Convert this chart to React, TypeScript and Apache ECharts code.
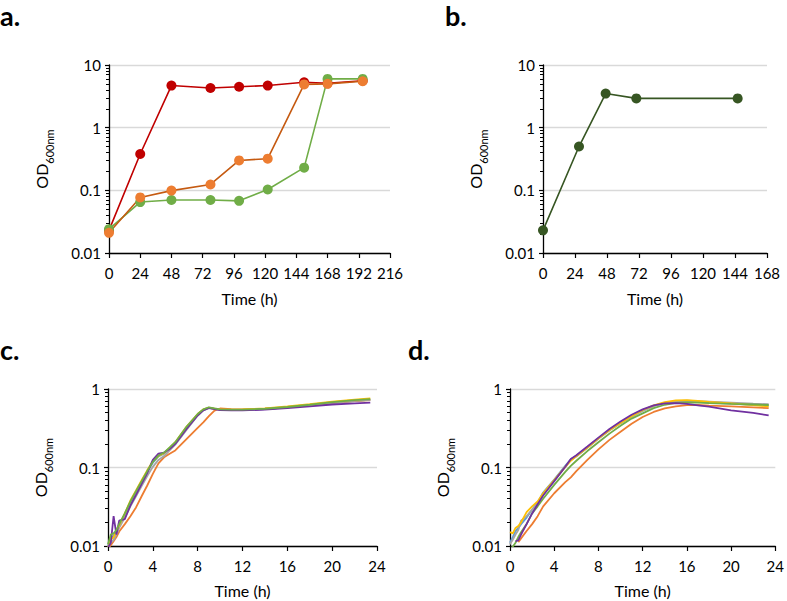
import React, { useEffect, useRef } from 'react';
import * as echarts from 'echarts';

const FONT = 'Lato, "Open Sans", "DejaVu Sans", sans-serif';

// ---------- Panel a ----------
const timeA = [0, 24, 48, 78, 100, 122, 150, 168, 195];
const redA = [0.023, 0.38, 4.7, 4.3, 4.5, 4.7, 5.3, 5.1, 5.6];
const greenA = [0.024, 0.065, 0.07, 0.07, 0.068, 0.103, 0.23, 6.0, 6.0];
const orangeA = [0.021, 0.077, 0.099, 0.124, 0.3, 0.32, 4.9, 5.0, 5.5];
const xTicksA = { max: 216, interval: 24 };

// ---------- Panel b ----------
const timeB = [0, 27, 47, 70, 146];
const odB = [0.023, 0.5, 3.5, 2.93, 2.93];
const xTicksB = { max: 168, interval: 24 };

// ---------- Panel c ----------
const timeC = [0, 0.25, 0.5, 0.75, 1, 1.5, 2, 2.5, 3, 3.5, 4, 4.5, 5, 5.5, 6, 7, 8, 8.5, 9, 9.5, 10, 11, 12, 14, 16, 18, 20, 22, 23.4];
const blueC = [0.01, 0.0125, 0.0135, 0.0155, 0.018, 0.025, 0.036, 0.049, 0.066, 0.088, 0.115, 0.138, 0.15, 0.175, 0.205, 0.32, 0.47, 0.54, 0.575, 0.56, 0.545, 0.54, 0.54, 0.555, 0.585, 0.62, 0.665, 0.7, 0.725];
const orangeC = [0.0095, 0.0102, 0.0115, 0.013, 0.0153, 0.019, 0.024, 0.031, 0.043, 0.059, 0.083, 0.113, 0.135, 0.15, 0.165, 0.23, 0.32, 0.375, 0.45, 0.53, 0.565, 0.555, 0.55, 0.56, 0.585, 0.62, 0.665, 0.7, 0.72];
const grayC = [0.0098, 0.011, 0.012, 0.014, 0.017, 0.023, 0.032, 0.043, 0.058, 0.078, 0.102, 0.125, 0.14, 0.165, 0.195, 0.3, 0.46, 0.535, 0.57, 0.56, 0.545, 0.54, 0.54, 0.555, 0.585, 0.62, 0.665, 0.705, 0.73];
const yellowC = [0.0095, 0.012, 0.013, 0.0155, 0.0185, 0.026, 0.038, 0.051, 0.069, 0.092, 0.12, 0.14, 0.152, 0.178, 0.21, 0.33, 0.48, 0.55, 0.58, 0.56, 0.55, 0.545, 0.55, 0.565, 0.6, 0.64, 0.69, 0.73, 0.76];
const purpleC = [0.0095, 0.011, 0.024, 0.014, 0.021, 0.022, 0.033, 0.045, 0.062, 0.085, 0.125, 0.15, 0.155, 0.172, 0.2, 0.31, 0.46, 0.535, 0.575, 0.555, 0.54, 0.535, 0.535, 0.545, 0.57, 0.6, 0.635, 0.655, 0.67];
const greenC = [0.0105, 0.014, 0.0145, 0.016, 0.019, 0.026, 0.037, 0.05, 0.067, 0.09, 0.118, 0.142, 0.155, 0.18, 0.21, 0.33, 0.48, 0.55, 0.585, 0.565, 0.55, 0.545, 0.545, 0.56, 0.59, 0.63, 0.68, 0.72, 0.745];

// ---------- Panel d ----------
const timeD = [0, 0.25, 0.5, 0.75, 1, 1.5, 2, 2.5, 3, 4, 5, 5.5, 6, 7, 8, 9, 10, 11, 12, 13, 14, 15, 16, 17, 18, 20, 22, 23.4];
const blueD = [0.011, 0.013, 0.0155, 0.017, 0.019, 0.023, 0.029, 0.036, 0.048, 0.07, 0.105, 0.127, 0.14, 0.18, 0.235, 0.3, 0.37, 0.45, 0.53, 0.61, 0.665, 0.69, 0.695, 0.685, 0.67, 0.65, 0.63, 0.615];
const orangeD = [null, null, null, 0.0112, 0.0125, 0.0155, 0.019, 0.024, 0.032, 0.047, 0.065, 0.075, 0.09, 0.125, 0.17, 0.225, 0.285, 0.36, 0.44, 0.51, 0.565, 0.6, 0.625, 0.625, 0.615, 0.6, 0.585, 0.57];
const grayD = [0.0105, 0.012, 0.014, 0.016, 0.021, 0.024, 0.029, 0.035, 0.046, 0.068, 0.102, 0.124, 0.138, 0.178, 0.232, 0.295, 0.365, 0.445, 0.525, 0.605, 0.665, 0.7, 0.71, 0.7, 0.69, 0.67, 0.65, 0.64];
const yellowD = [0.015, 0.0145, 0.017, 0.018, 0.02, 0.027, 0.032, 0.037, 0.047, 0.069, 0.102, 0.122, 0.14, 0.18, 0.235, 0.3, 0.37, 0.45, 0.54, 0.62, 0.68, 0.715, 0.72, 0.705, 0.685, 0.655, 0.625, 0.6];
const purpleD = [null, null, 0.0115, 0.0118, 0.014, 0.019, 0.026, 0.034, 0.044, 0.067, 0.102, 0.128, 0.143, 0.185, 0.24, 0.31, 0.385, 0.47, 0.55, 0.62, 0.655, 0.66, 0.645, 0.62, 0.595, 0.535, 0.495, 0.462];
const greenD = [0.0092, 0.0098, 0.011, 0.013, 0.015, 0.019, 0.026, 0.032, 0.04, 0.06, 0.088, 0.105, 0.122, 0.162, 0.21, 0.27, 0.34, 0.42, 0.49, 0.57, 0.63, 0.665, 0.675, 0.67, 0.66, 0.645, 0.635, 0.625];
const xTicksCD = { max: 24, interval: 4 };

const pair = (t: number[], v: (number | null)[]) =>
  t.map((x, i) => (v[i] == null ? null : [x, v[i]])).filter((p) => p !== null);

const fmt = (v: number) => String(+Number(v).toPrecision(3));

function makeX(gridIndex: number, t: { max: number; interval: number }, nameGap: number) {
  return {
    type: 'value',
    gridIndex,
    min: 0,
    max: t.max,
    interval: t.interval,
    axisLine: { show: true, onZero: false, lineStyle: { color: '#000', width: 1.3 } },
    axisTick: { show: true, length: 5, lineStyle: { color: '#000', width: 1.2 } },
    splitLine: { show: false },
    axisLabel: { margin: 12, fontSize: 15, color: '#000', fontFamily: FONT, fontWeight: 'normal' },
    name: 'Time (h)',
    nameLocation: 'middle',
    nameGap,
    nameTextStyle: { fontSize: 16, color: '#000', fontFamily: FONT, fontWeight: 'normal' },
  };
}

function makeY(gridIndex: number, max: number) {
  return {
    type: 'log',
    logBase: 10,
    gridIndex,
    min: 0.01,
    max,
    axisLine: { show: true, lineStyle: { color: '#000', width: 1.3 } },
    axisTick: { show: true, length: 4, lineStyle: { color: '#000', width: 1.2 } },
    minorTick: { show: true, splitNumber: 9, length: 3, lineStyle: { color: '#000', width: 1 } },
    minorSplitLine: { show: false },
    splitLine: { show: true, lineStyle: { color: '#D9D9D9', width: 1.3 } },
    axisLabel: { margin: 8, fontSize: 15, color: '#000', fontFamily: FONT, fontWeight: 'normal', formatter: fmt },
    name: '{a|OD}{b|600nm}',
    nameLocation: 'middle',
    nameGap: 54,
    nameTextStyle: {
      rich: {
        a: { fontSize: 16, fontFamily: FONT, color: '#000', lineHeight: 22, verticalAlign: 'top' },
        b: { fontSize: 11, fontFamily: FONT, color: '#000', lineHeight: 12, verticalAlign: 'bottom' },
      },
    },
  };
}

function markerSeries(idx: number, data: any[], lineColor: string, dotColor: string) {
  return {
    type: 'line',
    xAxisIndex: idx,
    yAxisIndex: idx,
    data,
    symbol: 'circle',
    symbolSize: 10,
    showSymbol: true,
    lineStyle: { color: lineColor, width: 1.6 },
    itemStyle: { color: dotColor, borderWidth: 0 },
    emphasis: { disabled: true },
  };
}

function curve(idx: number, data: any[], color: string) {
  return {
    type: 'line',
    xAxisIndex: idx,
    yAxisIndex: idx,
    data,
    symbol: 'none',
    showSymbol: false,
    lineStyle: { color, width: 1.8 },
    emphasis: { disabled: true },
  };
}

const BLUE = '#5B9BD5';
const ORANGE = '#ED7D31';
const GRAY = '#A5A5A5';
const YELLOW = '#FFC000';
const PURPLE = '#7030A0';
const GREEN = '#70AD47';

function panelLabel(text: string, x: number, y: number) {
  return {
    type: 'text',
    x,
    y,
    style: { text, font: `bold 27px ${FONT}`, fill: '#000', verticalAlign: 'top' },
  };
}

export default function App() {
  const ref = useRef<HTMLDivElement>(null);
  useEffect(() => {
    if (!ref.current) return;
    const chart = echarts.init(ref.current, null, { renderer: 'svg' });
    const option: any = {
      animation: false,
      backgroundColor: '#fff',
      grid: [
        { left: 109, top: 65, width: 281, height: 188 },
        { left: 543, top: 65, width: 224, height: 188 },
        { left: 108, top: 389, width: 269, height: 157 },
        { left: 510, top: 389, width: 269, height: 157 },
      ],
      xAxis: [makeX(0, xTicksA, 37), makeX(1, xTicksB, 37), makeX(2, xTicksCD, 36), makeX(3, xTicksCD, 36)],
      yAxis: [makeY(0, 10), makeY(1, 10), makeY(2, 1), makeY(3, 1)],
      graphic: [
        panelLabel('a.', 0, 2),
        panelLabel('b.', 445, 2),
        panelLabel('c.', 0, 336),
        panelLabel('d.', 408, 336),
      ],
      series: [
        markerSeries(0, pair(timeA, redA), '#C00000', '#C00000'),
        markerSeries(0, pair(timeA, greenA), GREEN, GREEN),
        markerSeries(0, pair(timeA, orangeA), '#C55A11', ORANGE),
        markerSeries(1, pair(timeB, odB), '#375623', '#375623'),
        curve(2, pair(timeC, blueC), BLUE),
        curve(2, pair(timeC, orangeC), ORANGE),
        curve(2, pair(timeC, grayC), GRAY),
        curve(2, pair(timeC, yellowC), YELLOW),
        curve(2, pair(timeC, purpleC), PURPLE),
        curve(2, pair(timeC, greenC), GREEN),
        curve(3, pair(timeD, blueD), BLUE),
        curve(3, pair(timeD, orangeD), ORANGE),
        curve(3, pair(timeD, grayD), GRAY),
        curve(3, pair(timeD, yellowD), YELLOW),
        curve(3, pair(timeD, greenD), GREEN),
        curve(3, pair(timeD, purpleD), PURPLE),
      ],
    };
    chart.setOption(option);
    return () => chart.dispose();
  }, []);
  return (
    <div
      ref={ref}
      style={{ position: 'fixed', left: 0, top: 0, width: 787, height: 601, background: '#fff' }}
    />
  );
}
